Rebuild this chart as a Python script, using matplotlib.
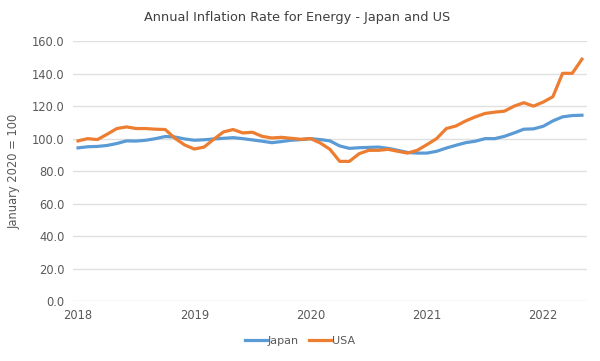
import matplotlib
matplotlib.use("Agg")
import matplotlib.pyplot as plt
import numpy as np

# monthly index values, Jan 2018 .. May 2022 (January 2020 = 100)
japan = [94.3, 95.0, 95.2, 95.8, 97.0, 98.6, 98.5, 99.0, 100.0, 101.3, 101.0, 99.8,
         99.0, 99.3, 99.8, 100.2, 100.6, 100.0, 99.2, 98.4, 97.5, 98.2, 99.0, 99.4,
         100.0, 99.4, 98.6, 95.5, 94.0, 94.4, 94.6, 94.8, 94.0, 92.8, 91.5, 91.1,
         91.1, 92.2, 94.2, 95.9, 97.5, 98.4, 100.0, 100.0, 101.4, 103.5, 105.8, 106.0,
         107.6, 110.9, 113.4, 114.2, 114.4]
usa = [98.6, 100.0, 99.4, 102.7, 106.2, 107.2, 106.2, 106.2, 105.8, 105.6, 100.2, 96.1,
       93.6, 94.8, 99.6, 104.1, 105.6, 103.5, 103.9, 101.4, 100.4, 100.8, 100.2, 99.6,
       100.0, 97.3, 93.4, 86.0, 86.0, 90.7, 92.8, 92.8, 93.4, 92.2, 91.1, 92.8,
       96.3, 100.0, 106.2, 107.8, 110.9, 113.4, 115.5, 116.3, 116.9, 120.0, 122.1, 120.0,
       122.5, 125.8, 140.2, 140.2, 148.9]
years = ["2018", "2019", "2020", "2021", "2022"]

months = np.arange(len(japan))
txt = "#595959"

fig = plt.figure(figsize=(6, 3.61), dpi=100)
ax = fig.add_axes([0.122, 0.166, 0.856, 0.72])

ax.plot(months, japan, color="#5B9BD5", lw=2.3, label="Japan", solid_joinstyle="round")
ax.plot(months, usa, color="#ED7D31", lw=2.3, label="USA", solid_joinstyle="round")

ax.set_ylim(0, 160)
ax.set_xlim(-0.5, 52.5)
ax.set_yticks(np.arange(0, 161, 20))
ax.set_yticklabels([f"{v:.1f}" for v in np.arange(0, 161, 20)])
ax.set_xticks(np.arange(0, 53, 12))
ax.set_xticklabels(years)
ax.tick_params(length=0, labelsize=8.3, labelcolor=txt, pad=6)
ax.grid(axis="y", color="#E0E0E0", lw=1)
ax.set_axisbelow(True)
for s in ax.spines.values():
    s.set_visible(False)

ax.set_ylabel("January 2020 = 100", fontsize=8.3, color=txt, labelpad=8)
fig.suptitle("Annual Inflation Rate for Energy - Japan and US", fontsize=9.3,
             color="#404040", x=0.495, y=0.97)
fig.legend(loc="center", bbox_to_anchor=(0.5, 0.055), ncol=2, frameon=False,
           fontsize=8, labelcolor=txt, handlelength=2.0, handletextpad=0.1,
           columnspacing=0.9)

fig.savefig("out.png", dpi=100)
